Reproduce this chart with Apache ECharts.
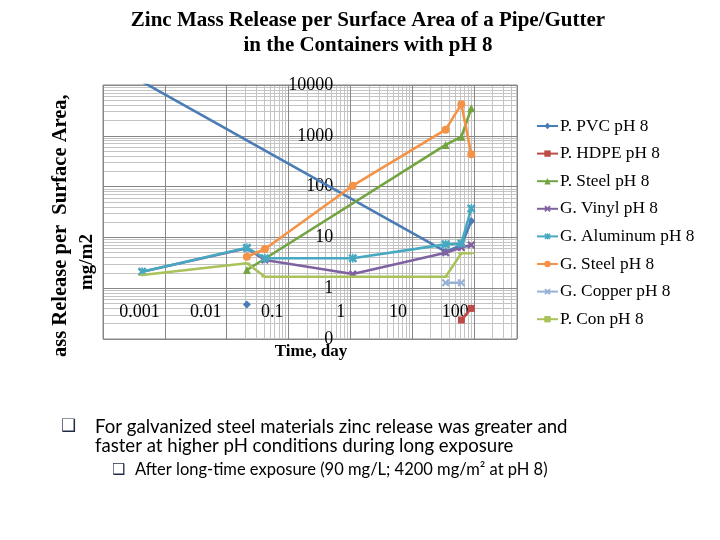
<!DOCTYPE html>
<html><head><meta charset="utf-8">
<script src="https://cdn.jsdelivr.net/npm/echarts@6/dist/echarts.min.js"></script>
<style>html,body{margin:0;padding:0;background:#fff}#c{width:720px;height:540px}</style>
</head><body><div id="c"></div>
<script>
// ---- data (time in days, zinc release in mg/m2) ----
const seriesNames = ['P. PVC pH 8','P. HDPE pH 8','P. Steel pH 8','G. Vinyl pH 8','G. Aluminum pH 8','G. Steel pH 8','G. Copper pH 8','P. Con pH 8'];
const pvcTime = [0.0213, null, 0.00043, 35, 63, 91];
const pvcValue = [0.48, null, 11600, 5.23, 7.0, 21];
const hdpeTime = [63, 91];
const hdpeValue = [0.237, 0.40];
const pSteelTime = [0.0213, 35, 63, 91];
const pSteelValue = [2.28, 660, 960, 3475];
const vinylTime = [0.00043, 0.0213, 0.0417, 1.1, 35, 63, 91];
const vinylValue = [2.1, 6.1, 3.59, 1.9, 5.0, 6.3, 7.1];
const aluminumTime = [0.00043, 0.0213, 0.0417, 1.1, 35, 63, 91];
const aluminumValue = [2.11, 6.27, 3.88, 3.88, 7.3, 7.6, 37];
const gSteelTime = [0.0213, 0.0417, 1.1, 35, 63, 91];
const gSteelValue = [4.17, 5.9, 104, 1320, 4200, 433];
const copperTime = [35, 63];
const copperValue = [1.28, 1.28];
const pConTime = [0.00043, 0.0213, 0.0417, 1.1, 35, 63, 91];
const pConValue = [1.82, 3.09, 1.68, 1.68, 1.68, 4.86, 4.86];

const xTickValues = [0.001, 0.01, 0.1, 1, 10, 100];
const xTickLabels = ['0.001', '0.01', '0.1', '1', '10', '100'];
const yTickValues = [0.1, 1, 10, 100, 1000, 10000];
const yTickLabels = ['0', '1', '10', '100', '1000', '10000'];
const minorSteps = [2, 3, 4, 5, 6, 7, 8, 9];
const xDecades = [-4, -3, -2, -1, 0, 1, 2];
const yDecades = [-1, 0, 1, 2, 3];
const xMin = 0.0001, xMax = 500, yMin = 0.1, yMax = 10000;

// ---- build ----
function pairs(t, v) {
  return t.map((x, i) => (x === null || v[i] === null) ? ['-', '-'] : [x, v[i]]);
}
const xMinor = [], yMinor = [];
xDecades.forEach(e => minorSteps.forEach(k => { const v = k * Math.pow(10, e); if (v < xMax) xMinor.push(v); }));
yDecades.forEach(e => minorSteps.forEach(k => { const v = k * Math.pow(10, e); if (v < yMax) yMinor.push(v); }));

function lookup(vals, labels, v) {
  const i = vals.findIndex(t => Math.abs(Math.log10(v / t)) < 1e-6);
  return i >= 0 ? labels[i] : '';
}

const xPath = 'path://M2,0L5,3L8,0L10,2L7,5L10,8L8,10L5,7L2,10L0,8L3,5L0,2Z';
const starPath = 'path://M2,0L5,3L8,0L10,2L7,5L10,8L8,10L5,7L2,10L0,8L3,5L0,2ZM4.2,0L5.8,0L5.8,10L4.2,10Z';

const colors = ['#4a7cb5', '#be4b48', '#72a442', '#7f62a0', '#47a8c2', '#f59245', '#98b2d6', '#a9c25a'];
const symbols = ['diamond', 'rect', 'triangle', xPath, starPath, 'circle', xPath, 'rect'];
const symbolSizes = [8, 7, 8, 8, 9, 8, 8, [7, 1.5]];
const allData = [
  pairs(pvcTime, pvcValue), pairs(hdpeTime, hdpeValue), pairs(pSteelTime, pSteelValue),
  pairs(vinylTime, vinylValue), pairs(aluminumTime, aluminumValue), pairs(gSteelTime, gSteelValue),
  pairs(copperTime, copperValue), pairs(pConTime, pConValue)
];

const serif = '"Liberation Serif", "Times New Roman", serif';

const series = [{
  name: 'grid-minor', type: 'line', data: [[1, 1]], showSymbol: false, symbol: 'none',
  lineStyle: { width: 0, opacity: 0 }, silent: true, z: 0, animation: false,
  markLine: {
    silent: true, symbol: ['none', 'none'], label: { show: false }, z: 0.5, animation: false,
    lineStyle: { color: '#c4c4c4', width: 1, type: 'solid' },
    emphasis: { disabled: true },
    data: xMinor.map(v => ({ xAxis: v })).concat(yMinor.map(v => ({ yAxis: v })))
  }
}];
seriesNames.forEach((n, i) => {
  series.push({
    name: n, type: 'line', data: allData[i], symbol: symbols[i], symbolSize: symbolSizes[i],
    showSymbol: true, clip: true, connectNulls: false, z: 3 + i * 0.01, animation: false,
    lineStyle: { color: colors[i], width: 2.6 },
    itemStyle: { color: colors[i] }
  });
});

const chart = echarts.init(document.getElementById('c'), null, { renderer: 'canvas' });
chart.setOption({
  animation: false,
  backgroundColor: '#ffffff',
  grid: { left: 103, top: 85, width: 414, height: 254, show: true, borderColor: '#878787', borderWidth: 1, containLabel: false },
  xAxis: {
    type: 'log', logBase: 10, min: xMin, max: xMax, position: 'bottom', offset: -50.8, z: 2,
    axisLine: { show: false }, axisTick: { show: false },
    splitLine: { show: true, lineStyle: { color: '#878787', width: 1 } },
    axisLabel: {
      show: true, margin: 15, align: 'right', padding: [0, 5, 0, 0], hideOverlap: false,
      fontFamily: serif, fontSize: 18, color: '#000',
      formatter: v => lookup(xTickValues, xTickLabels, v)
    }
  },
  yAxis: {
    type: 'log', logBase: 10, min: yMin, max: yMax, position: 'left', offset: -247.3, z: 2,
    axisLine: { show: false }, axisTick: { show: false },
    splitLine: { show: true, lineStyle: { color: '#878787', width: 1 } },
    axisLabel: {
      show: true, margin: 17, hideOverlap: false,
      fontFamily: serif, fontSize: 18, color: '#000',
      formatter: v => lookup(yTickValues, yTickLabels, v)
    }
  },
  legend: {
    data: seriesNames, orient: 'vertical', left: 531, top: 112,
    itemWidth: 21, itemHeight: 8, itemGap: 9.6, selectedMode: false,
    textStyle: { fontFamily: serif, fontSize: 17.3, color: '#000', lineHeight: 18, padding: [0, 0, 0, -3] }
  },
  series: series,
  graphic: [
    { type: 'text', x: 368, y: 21, style: { text: 'Zinc Mass Release per Surface Area of a Pipe/Gutter', font: 'bold 21px ' + serif, fill: '#000', textAlign: 'center', textVerticalAlign: 'middle' } },
    { type: 'text', x: 368, y: 46, style: { text: 'in the Containers with pH 8', font: 'bold 21px ' + serif, fill: '#000', textAlign: 'center', textVerticalAlign: 'middle' } },
    { type: 'text', x: 61, y: 357, rotation: Math.PI / 2, style: { text: 'ass Release per  Surface Area,', font: 'bold 20.5px ' + serif, fill: '#000', textAlign: 'left', textVerticalAlign: 'middle' } },
    { type: 'text', x: 87, y: 262, rotation: Math.PI / 2, style: { text: 'mg/m2', font: 'bold 19px ' + serif, fill: '#000', textAlign: 'center', textVerticalAlign: 'middle' } },
    { type: 'text', x: 311, y: 352, style: { text: 'Time, day', font: 'bold 17px ' + serif, fill: '#000', textAlign: 'center', textVerticalAlign: 'middle' } },
    { type: 'text', x: 61, y: 427, style: { text: '\u2751', font: '17px "DejaVu Sans"', fill: '#1f2a44', textAlign: 'left', textVerticalAlign: 'middle' } },
    { type: 'text', x: 95, y: 427, style: { text: 'For galvanized steel materials zinc release was greater and', font: '18.6px Lato', fill: '#000', textAlign: 'left', textVerticalAlign: 'middle' } },
    { type: 'text', x: 95, y: 446, style: { text: 'faster at higher pH conditions during long exposure', font: '18.6px Lato', fill: '#000', textAlign: 'left', textVerticalAlign: 'middle' } },
    { type: 'text', x: 112, y: 470, style: { text: '\u2751', font: '15px "DejaVu Sans"', fill: '#1f2a44', textAlign: 'left', textVerticalAlign: 'middle' } },
    { type: 'text', x: 135, y: 470, style: { text: 'After long-time exposure (90 mg/L; 4200 mg/m\u00b2 at pH 8)', font: '16.5px Lato', fill: '#000', textAlign: 'left', textVerticalAlign: 'middle' } }
  ]
});
</script></body></html>
